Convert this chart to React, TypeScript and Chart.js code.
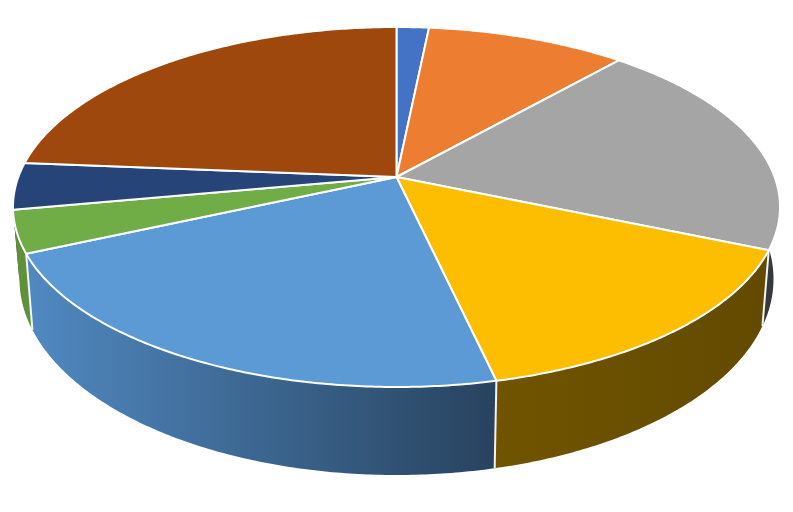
import React, { useEffect, useRef } from "react";
import { Chart, registerables } from "chart.js";

Chart.register(...registerables);

const categories = ["A", "B", "C", "D", "E", "F", "G", "H"];
const values = [1.6, 9.9, 19.9, 15.05, 21.85, 3.8, 4.2, 23.7];
const topColors = ["#4472c4", "#ed7d31", "#a5a5a5", "#fdbd00", "#5b9ad5", "#70ad47", "#264478", "#9e480e"];
const sideStart = ["#2c4a80", "#9a5120", "#36383c", "#705400", "#5088c0", "#5f9138", "#1a2f53", "#6e320a"];
const sideEnd = ["#2c4a80", "#9a5120", "#36383c", "#634a00", "#28435f", "#5f9138", "#1a2f53", "#6e320a"];
const gradientFrom = [33, 33, 33, 497, 33, 33, 33, 33];
const gradientTo = [494, 494, 494, 762, 494, 494, 494, 494];
const wallOrder = [0, 1, 7, 6, 2, 5, 3, 4];
const visibleSeparators = [3, 4, 5];

const TOP = { cx: 396.5, cy: 207, rx: 383.5, ry: 180 };
const BOTTOM = { cx: 396.5, cy: 279, rx: 377, ry: 196 };
const TILT = -1 / 6;

type Ell = typeof TOP;

function project(e: Ell, angle: number, radius = 1) {
  const u = Math.cos(angle) * radius;
  const v = Math.sin(angle) * radius;
  const d = 1 + TILT * v;
  const X = (u * Math.sqrt(1 - TILT * TILT)) / d;
  const Y = (v + TILT) / d;
  return { x: e.cx + e.rx * X, y: e.cy + e.ry * Y };
}

function arcPoints(e: Ell, a0: number, a1: number) {
  const n = Math.max(2, Math.ceil(Math.abs(a1 - a0) / 0.01));
  const pts = [];
  for (let i = 0; i <= n; i++) pts.push(project(e, a0 + ((a1 - a0) * i) / n));
  return pts;
}

const pie3d = {
  id: "pie3d",
  beforeDatasetsDraw(chart: any) {
    const ctx = chart.ctx as CanvasRenderingContext2D;
    const arcs = chart.getDatasetMeta(0).data as any[];
    ctx.save();
    ctx.lineJoin = "round";

    for (const i of wallOrder) {
      const { startAngle: a0, endAngle: a1 } = arcs[i];
      const top = arcPoints(TOP, a0, a1);
      const bottom = arcPoints(BOTTOM, a1, a0);
      const grad = ctx.createLinearGradient(gradientFrom[i], 0, gradientTo[i], 0);
      grad.addColorStop(0, sideStart[i]);
      grad.addColorStop(1, sideEnd[i]);
      ctx.beginPath();
      [...top, ...bottom].forEach((p, k) => (k ? ctx.lineTo(p.x, p.y) : ctx.moveTo(p.x, p.y)));
      ctx.closePath();
      ctx.fillStyle = grad;
      ctx.fill();
    }

    ctx.strokeStyle = "#f4f4f4";
    ctx.lineWidth = 2;
    for (const i of visibleSeparators) {
      const a = arcs[i].startAngle;
      const p = project(TOP, a);
      const q = project(BOTTOM, a);
      ctx.beginPath();
      ctx.moveTo(p.x, p.y);
      ctx.lineTo(q.x, q.y);
      ctx.stroke();
    }

    const apex = project(TOP, 0, 0);
    ctx.strokeStyle = "#ffffff";
    arcs.forEach((arc, i) => {
      const pts = arcPoints(TOP, arc.startAngle, arc.endAngle);
      ctx.beginPath();
      ctx.moveTo(apex.x, apex.y);
      pts.forEach((p) => ctx.lineTo(p.x, p.y));
      ctx.closePath();
      ctx.fillStyle = topColors[i];
      ctx.fill();
      ctx.stroke();
    });
    ctx.restore();
    return false;
  },
};

export default function App() {
  const ref = useRef<HTMLCanvasElement>(null);
  useEffect(() => {
    const chart = new Chart(ref.current as HTMLCanvasElement, {
      type: "pie",
      data: {
        labels: categories,
        datasets: [{ data: values, backgroundColor: topColors, borderColor: "#ffffff", borderWidth: 2 }],
      },
      options: {
        animation: false,
        responsive: false,
        plugins: { legend: { display: false }, tooltip: { enabled: false } },
      },
      plugins: [pie3d],
    } as any);
    return () => chart.destroy();
  }, []);
  return (
    <canvas
      ref={ref}
      width={793}
      height={512}
      style={{ position: "absolute", left: 0, top: 0, width: 793, height: 512, background: "#ffffff" }}
    />
  );
}
